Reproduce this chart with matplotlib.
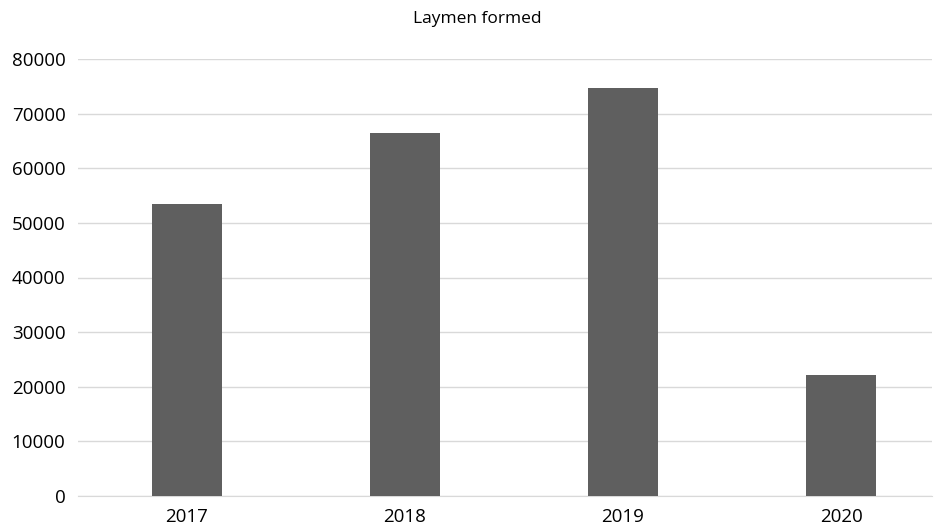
import matplotlib.pyplot as plt

# data
years = ["2017", "2018", "2019", "2020"]
laymen = [53500, 66500, 74700, 22200]

plt.rcParams['font.family'] = ['Open Sans', 'DejaVu Sans']

fig = plt.figure(figsize=(9.4, 5.3), dpi=100)
ax = fig.add_axes([78 / 940, 1 - 496 / 530, (932 - 78) / 940, (496 - 59) / 530])

x = range(len(years))
ax.bar(x, laymen, width=0.32, color="#5f5f5f", zorder=3)

ax.set_ylim(0, 80000)
ax.set_yticks(range(0, 80001, 10000))
ax.set_xlim(-0.5, 3.417)
ax.set_xticks(list(x))
ax.set_xticklabels(years)

ax.grid(axis="y", color="#d9d9d9", linewidth=1, zorder=0)
for s in ["top", "right", "left"]:
    ax.spines[s].set_visible(False)
ax.spines["bottom"].set_color("#d9d9d9")
ax.tick_params(axis="both", length=0, labelsize=13.5, colors="#000000")
ax.tick_params(axis="y", pad=9)
ax.tick_params(axis="x", pad=9)

fig.text(477 / 940, 1 - 19 / 530, "Laymen formed", ha="center", va="center", fontsize=12.5)

fig.savefig("out.png", dpi=100)
